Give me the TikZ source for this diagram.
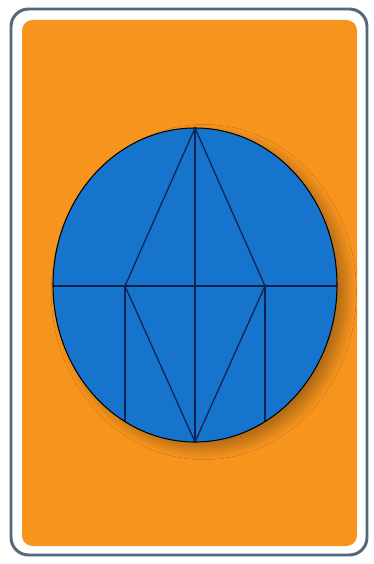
\documentclass[tikz,border=0pt]{standalone}
\usetikzlibrary{shadows.blur}
\definecolor{cardorange}{RGB}{247,148,30}
\definecolor{cardblue}{RGB}{22,116,204}
\definecolor{frameblue}{RGB}{84,104,124}
\definecolor{linenavy}{RGB}{12,34,80}
\begin{document}
\begin{tikzpicture}[x=0.02cm, y=-0.02cm,
    cut/.style={linenavy, line width=0.7pt}]
  \useasboundingbox (0,0) rectangle (374,564);
  \fill[white] (0,0) rectangle (374,564);

  % Kartramme
  \draw[frameblue, line width=1.7pt, fill=white, rounded corners=10pt]
    (11,9) rectangle (367,555);
  \fill[cardorange, rounded corners=6pt] (22,20) rectangle (357,546);

  % Ellipse
  \coordinate (m) at (195,285);
  \fill[cardblue, draw=black, line width=0.6pt,
    blur shadow={shadow xshift=5pt, shadow yshift=-4pt, shadow opacity=30,
      shadow blur radius=6pt, shadow blur steps=15}]
    (m) ellipse [x radius=142, y radius=157];

  % Rute
  \coordinate (top) at (195,128);
  \coordinate (bot) at (195,442);
  \coordinate (lft) at (125,286);
  \coordinate (rgt) at (265,286);
  \coordinate (lw) at (53,286);
  \coordinate (ew) at (337,286);
  \coordinate (lfb) at (125,421);
  \coordinate (rgb) at (265,421);
  \draw[cut] (top) -- (lft) -- (bot) -- (rgt) -- cycle;
  \draw[cut] (top) -- (bot);
  \draw[cut] (lw) -- (ew);
  \draw[cut] (lft) -- (lfb);
  \draw[cut] (rgt) -- (rgb);
\end{tikzpicture}
\end{document}
